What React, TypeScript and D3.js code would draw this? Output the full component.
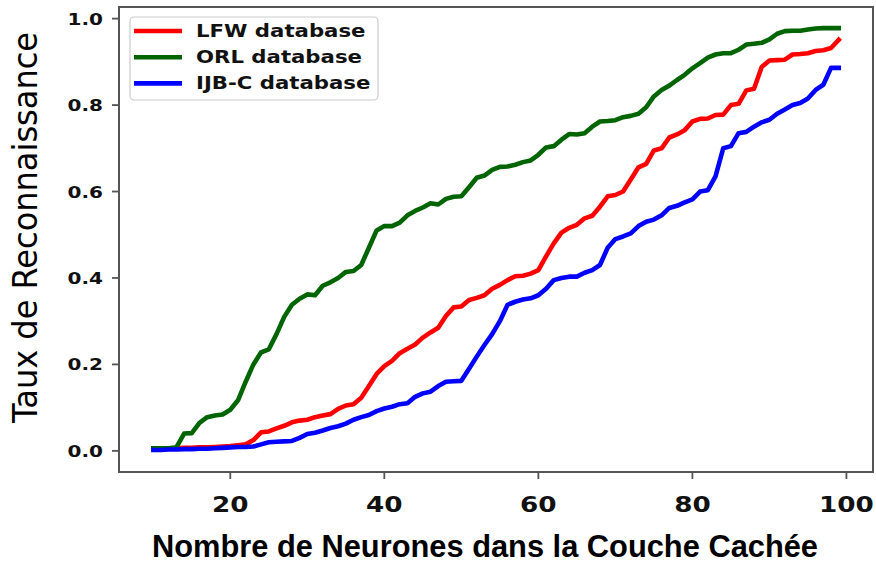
import React from "react";
import * as d3 from "d3";

const neurons: number[] = d3.range(10, 100);

const orlValues: number[] = [
  0.006, 0.006, 0.006, 0.008, 0.04, 0.041, 0.065, 0.078, 0.082, 0.084,
  0.095, 0.117, 0.16, 0.2, 0.228, 0.235, 0.27, 0.31, 0.338, 0.352,
  0.362, 0.36, 0.382, 0.39, 0.4, 0.414, 0.416, 0.43, 0.47, 0.51,
  0.52, 0.52, 0.528, 0.545, 0.555, 0.563, 0.573, 0.57, 0.583, 0.588,
  0.589, 0.61, 0.632, 0.637, 0.65, 0.657, 0.658, 0.662, 0.668, 0.672,
  0.685, 0.702, 0.705, 0.72, 0.733, 0.732, 0.735, 0.75, 0.762, 0.763,
  0.765, 0.772, 0.775, 0.78, 0.795, 0.82, 0.835, 0.845, 0.858, 0.87,
  0.885, 0.897, 0.91, 0.917, 0.92, 0.92, 0.928, 0.94, 0.942, 0.944,
  0.952, 0.965, 0.971, 0.972, 0.972, 0.975, 0.977, 0.978, 0.978, 0.978,
];

const lfwValues: number[] = [
  0.005, 0.005, 0.006, 0.006, 0.007, 0.007, 0.008, 0.008, 0.009, 0.01,
  0.011, 0.013, 0.015, 0.025, 0.043, 0.045, 0.052, 0.058, 0.066, 0.07,
  0.072, 0.078, 0.082, 0.085, 0.097, 0.105, 0.108, 0.123, 0.15, 0.178,
  0.196, 0.208, 0.226, 0.236, 0.246, 0.262, 0.274, 0.285, 0.312, 0.332,
  0.334, 0.349, 0.354, 0.36, 0.375, 0.384, 0.395, 0.404, 0.405, 0.41,
  0.418, 0.45, 0.48, 0.505, 0.516, 0.523, 0.538, 0.544, 0.565, 0.589,
  0.592, 0.6, 0.628, 0.656, 0.664, 0.695, 0.7, 0.725, 0.732, 0.742,
  0.762, 0.768, 0.769, 0.777, 0.778, 0.8, 0.803, 0.834, 0.838, 0.888,
  0.903, 0.904, 0.905, 0.917, 0.918, 0.92, 0.925, 0.927, 0.932, 0.951,
];

const ijbcValues: number[] = [
  0.002, 0.002, 0.003, 0.003, 0.004, 0.004, 0.005, 0.005, 0.006, 0.007,
  0.008, 0.009, 0.009, 0.01, 0.015, 0.02, 0.021, 0.022, 0.023, 0.03,
  0.039, 0.042, 0.047, 0.053, 0.057, 0.063, 0.072, 0.078, 0.083, 0.092,
  0.098, 0.102, 0.108, 0.11, 0.125, 0.133, 0.137, 0.15, 0.16, 0.161,
  0.162, 0.19, 0.218, 0.245, 0.27, 0.3, 0.338, 0.345, 0.35, 0.353,
  0.36, 0.375, 0.395, 0.4, 0.403, 0.403, 0.412, 0.418, 0.43, 0.47,
  0.49, 0.496, 0.503, 0.52, 0.53, 0.535, 0.545, 0.562, 0.567, 0.575,
  0.582, 0.6, 0.603, 0.635, 0.7, 0.705, 0.735, 0.738, 0.75, 0.76,
  0.766, 0.78, 0.79, 0.8, 0.805, 0.815, 0.835, 0.847, 0.886, 0.886,
];

const seriesNames: string[] = ["LFW database", "ORL database", "IJB-C database"];
const seriesColors: string[] = ["#ff0000", "#006400", "#0000ff"];
const seriesValues: number[][] = [lfwValues, orlValues, ijbcValues];

const xTicks: number[] = [20, 40, 60, 80, 100];
const yTicks: number[] = [0.0, 0.2, 0.4, 0.6, 0.8, 1.0];

const xLabel = "Nombre de Neurones dans la Couche Cachée";
const yLabel = "Taux de Reconnaissance";

const W = 876;
const H = 563;
const plot = { left: 119, right: 873, top: 7, bottom: 472 };
const SX = 1.25; // horizontal stretch of the reference's text

export default function App() {
  const xMin = d3.min(neurons)!;
  const xMax = d3.max(neurons)!;
  const xPad = (xMax - xMin) * 0.05;
  const allY = seriesValues.flat();
  const yMin = Math.min(0, d3.min(allY)!);
  const yMax = d3.max(allY)!;
  const yPad = (yMax - yMin) * 0.05;

  const x = d3.scaleLinear().domain([xMin - xPad, xMax + xPad]).range([plot.left, plot.right]);
  const y = d3.scaleLinear().domain([yMin - yPad, yMax + yPad]).range([plot.bottom, plot.top]);

  const line = d3
    .line<[number, number]>()
    .x((d) => x(d[0]))
    .y((d) => y(d[1]));

  const tickFont = "'DejaVu Sans', sans-serif";

  return (
    <svg
      width={W}
      height={H}
      style={{ position: "absolute", left: 0, top: 0, background: "#fff" }}
    >
      <rect x={0} y={0} width={W} height={H} fill="#fff" />

      {/* lines */}
      <g clipPath="url(#clip)">
        {seriesValues.map((vals, i) => (
          <path
            key={seriesNames[i]}
            d={line(neurons.map((n, j) => [n, vals[j]] as [number, number])) || ""}
            fill="none"
            stroke={seriesColors[i]}
            strokeWidth={4.6}
            strokeLinejoin="round"
            strokeLinecap="square"
          />
        ))}
      </g>
      <defs>
        <clipPath id="clip">
          <rect x={plot.left} y={plot.top} width={plot.right - plot.left} height={plot.bottom - plot.top} />
        </clipPath>
      </defs>

      {/* frame */}
      <rect
        x={plot.left}
        y={plot.top}
        width={plot.right - plot.left}
        height={plot.bottom - plot.top}
        fill="none"
        stroke="#555"
        strokeWidth={2}
      />

      {/* x ticks */}
      {xTicks.map((t) => (
        <g key={"x" + t}>
          <line x1={x(t)} x2={x(t)} y1={plot.bottom} y2={plot.bottom + 7} stroke="#555" strokeWidth={1.8} />
          <g transform={`translate(${x(t)},${512}) scale(${SX},1)`}>
            <text textAnchor="middle" fontFamily={tickFont} fontWeight="bold" fontSize={21} fill="#111">
              {String(t)}
            </text>
          </g>
        </g>
      ))}

      {/* y ticks */}
      {yTicks.map((t) => (
        <g key={"y" + t}>
          <line x1={plot.left - 7} x2={plot.left} y1={y(t)} y2={y(t)} stroke="#555" strokeWidth={1.8} />
          <g transform={`translate(${103},${y(t) + 6}) scale(${SX},1)`}>
            <text textAnchor="end" fontFamily={tickFont} fontWeight="bold" fontSize={16} fill="#111">
              {t.toFixed(1)}
            </text>
          </g>
        </g>
      ))}

      {/* axis labels */}
      <text
        x={152}
        y={557}
        fontFamily="'Liberation Sans Narrow', 'Liberation Sans', Arial, sans-serif"
        fontWeight="bold"
        fontSize={31}
        fill="#000"
        textLength={666}
        lengthAdjust="spacingAndGlyphs"
      >
        {xLabel}
      </text>
      <g transform={`translate(37,${227.5}) scale(${SX},1) rotate(-90)`}>
        <text
          x={0}
          y={0}
          textAnchor="middle"
          fontFamily={tickFont}
          fontSize={27}
          fill="#000"
          textLength={391}
          lengthAdjust="spacingAndGlyphs"
        >
          {yLabel}
        </text>
      </g>

      {/* legend */}
      <rect x={130} y={17} width={248} height={83} rx={4} ry={4} fill="#fff" fillOpacity={0.85} stroke="#ccc" strokeWidth={1.2} />
      {seriesNames.map((name, i) => {
        const ly = 31 + i * 26.2;
        return (
          <g key={"leg" + name}>
            <line x1={134} x2={182} y1={ly} y2={ly} stroke={seriesColors[i]} strokeWidth={4.6} />
            <g transform={`translate(196,${ly + 6}) scale(${SX},1)`}>
              <text fontFamily={tickFont} fontWeight="bold" fontSize={17} fill="#111">
                {name}
              </text>
            </g>
          </g>
        );
      })}
    </svg>
  );
}
